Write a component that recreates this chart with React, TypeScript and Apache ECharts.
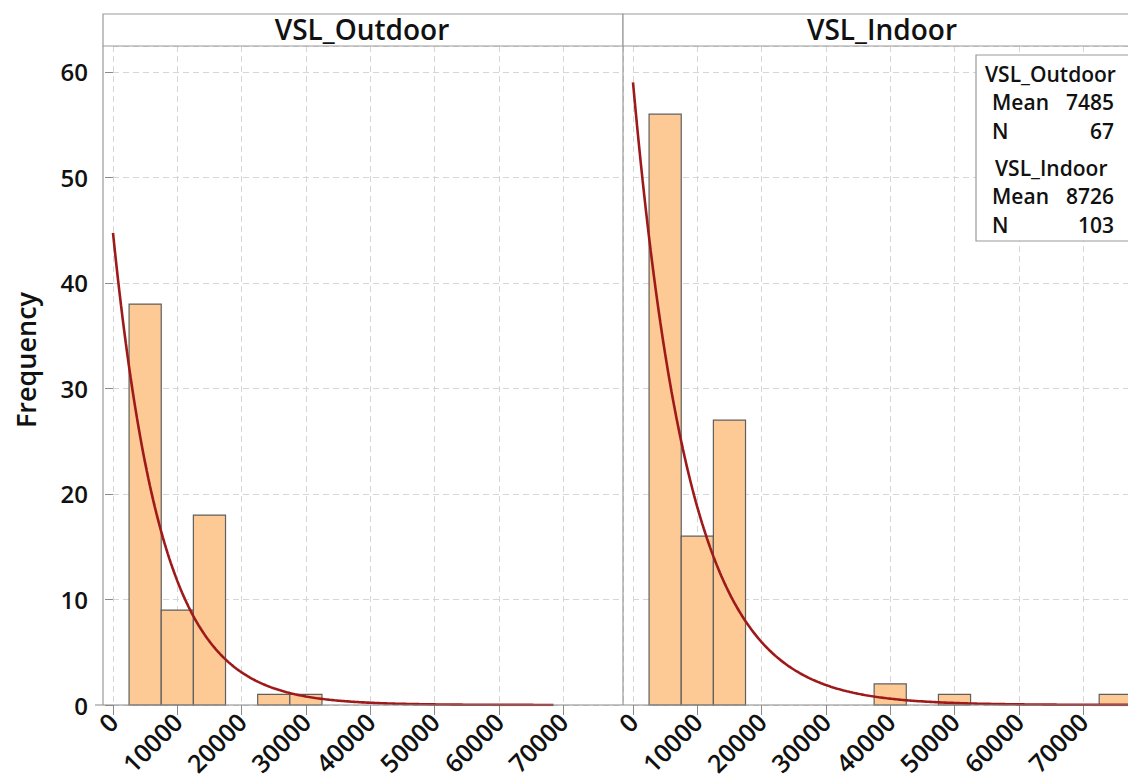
import React, { useEffect, useRef } from "react";
import * as echarts from "echarts";

// ---- Data ----
const BIN_WIDTH = 5000;
const binCenters = [5000, 10000, 15000, 20000, 25000, 30000, 35000, 40000, 45000, 50000, 55000, 60000, 65000, 70000, 75000];
const outdoorCounts = [38, 9, 18, 0, 1, 1, 0, 0, 0, 0, 0, 0, 0, 0, 0];
const indoorCounts = [56, 16, 27, 0, 0, 0, 0, 2, 0, 1, 0, 0, 0, 0, 1];
const panelNames = ["VSL_Outdoor", "VSL_Indoor"];
const outdoorMean = 7485;
const outdoorN = 67;
const indoorMean = 8726;
const indoorN = 103;
const xTickValues = [0, 10000, 20000, 30000, 40000, 50000, 60000, 70000];
const yTickValues = [0, 10, 20, 30, 40, 50, 60];
const fitEndOutdoor = 68600;
const fitEndIndoor = 79300;

// Fitted exponential (scaled to histogram counts) from the legend's Mean and N
function fitCurve(mean: number, n: number, xEnd: number): number[][] {
  const pts: number[][] = [];
  for (let x = 0; x <= xEnd; x += 250) {
    pts.push([x, ((n * BIN_WIDTH) / mean) * Math.exp(-x / mean)]);
  }
  return pts;
}

const FONT = "'Open Sans', 'Noto Sans', sans-serif";
const W = 600;
const X_MAX = 79316;
const Y_MAX = 62.46;

export default function App() {
  const ref = useRef<HTMLDivElement>(null);
  useEffect(() => {
    if (!ref.current) return;
    const chart = echarts.init(ref.current, undefined, { renderer: "svg" });

    const histItem = (params: any, api: any) => {
      const c = api.value(0);
      const n = api.value(1);
      if (!n) return null;
      const p0 = api.coord([c - BIN_WIDTH / 2, n]);
      const p1 = api.coord([c + BIN_WIDTH / 2, 0]);
      return {
        type: "rect",
        shape: { x: p0[0], y: p0[1], width: p1[0] - p0[0], height: p1[1] - p0[1] },
        style: { fill: "#fdca96", stroke: "#5f5f5f", lineWidth: 1.2 },
      };
    };

    const xAxisBase = (gridIndex: number) => ({
      gridIndex,
      type: "value",
      min: 0,
      max: X_MAX,
      interval: 10000,
      axisLine: { show: false },
      axisTick: { show: true, length: 10, lineStyle: { color: "#8a8a8a", width: 1 } },
      axisLabel: {
        rotate: 45,
        fontSize: 25,
        fontWeight: W,
        color: "#111",
        fontFamily: FONT,
        margin: 12,
        showMaxLabel: false,
        formatter: (v: number) => (xTickValues.includes(v) ? String(v) : ""),
      },
      splitLine: { show: true, lineStyle: { color: "#d6d6d6", type: [6, 4], width: 1 } },
    });

    const yAxisBase = (gridIndex: number, labels: boolean) => ({
      gridIndex,
      type: "value",
      min: 0,
      max: Y_MAX,
      interval: 10,
      offset: labels ? 10 : 0,
      axisLine: { show: false },
      axisTick: { show: labels, length: 8, lineStyle: { color: "#8a8a8a" } },
      axisLabel: {
        show: labels,
        fontSize: 24,
        fontWeight: W,
        color: "#111",
        fontFamily: FONT,
        margin: 15,
        showMaxLabel: false,
        formatter: (v: number) => (yTickValues.includes(v) ? String(v) : ""),
      },
      splitLine: { show: true, lineStyle: { color: "#d6d6d6", type: [6, 4], width: 1 } },
    });

    const legendLines = [
      { text: panelNames[0], x: 985, y: 74, align: "left" },
      { text: "Mean", x: 992, y: 102, align: "left" },
      { text: String(outdoorMean), x: 1114, y: 102, align: "right" },
      { text: "N", x: 992, y: 131, align: "left" },
      { text: String(outdoorN), x: 1114, y: 131, align: "right" },
      { text: panelNames[1], x: 995, y: 168, align: "left" },
      { text: "Mean", x: 992, y: 196, align: "left" },
      { text: String(indoorMean), x: 1114, y: 196, align: "right" },
      { text: "N", x: 992, y: 225, align: "left" },
      { text: String(indoorN), x: 1114, y: 225, align: "right" },
    ];

    const option: any = {
      animation: false,
      backgroundColor: "#ffffff",
      grid: [
        { left: 113, top: 46, width: 510, height: 659 },
        { left: 633, top: 46, width: 510, height: 659 },
      ],
      xAxis: [xAxisBase(0), xAxisBase(1)],
      yAxis: [yAxisBase(0, true), yAxisBase(1, false)],
      series: [
        {
          type: "custom",
          xAxisIndex: 0,
          yAxisIndex: 0,
          renderItem: histItem,
          data: binCenters.map((c, i) => [c, outdoorCounts[i]]),
          z: 3,
        },
        {
          type: "custom",
          xAxisIndex: 1,
          yAxisIndex: 1,
          renderItem: histItem,
          data: binCenters.map((c, i) => [c, indoorCounts[i]]),
          z: 3,
        },
        {
          type: "line",
          xAxisIndex: 0,
          yAxisIndex: 0,
          showSymbol: false,
          data: fitCurve(outdoorMean, outdoorN, fitEndOutdoor),
          lineStyle: { color: "#9e1a1a", width: 2.6 },
          z: 4,
        },
        {
          type: "line",
          xAxisIndex: 1,
          yAxisIndex: 1,
          showSymbol: false,
          data: fitCurve(indoorMean, indoorN, fitEndIndoor),
          lineStyle: { color: "#9e1a1a", width: 2.6 },
          z: 4,
        },
      ],
      graphic: [
        // panel frames
        { type: "line", z: 50, shape: { x1: 103, y1: 46, x2: 103, y2: 705 }, style: { stroke: "#9a9a9a", lineWidth: 1.2 } },
        { type: "line", z: 50, shape: { x1: 623, y1: 46, x2: 623, y2: 705 }, style: { stroke: "#9a9a9a", lineWidth: 1.2 } },
        { type: "line", z: 50, shape: { x1: 95, y1: 705, x2: 1160, y2: 705 }, style: { stroke: "#8a8a8a", lineWidth: 1.2 } },
        // headers
        { type: "rect", z: 50, shape: { x: 103, y: 14, width: 520, height: 32 }, style: { fill: "#fff", stroke: "#9a9a9a", lineWidth: 1.2 } },
        { type: "rect", z: 50, shape: { x: 623, y: 14, width: 520, height: 32 }, style: { fill: "#fff", stroke: "#9a9a9a", lineWidth: 1.2 } },
        {
          type: "text", z: 51, x: 362, y: 29,
          style: { text: panelNames[0], fontSize: 28, fontWeight: W, fontFamily: FONT, fill: "#111", align: "center", verticalAlign: "middle" },
        },
        {
          type: "text", z: 51, x: 882, y: 29,
          style: { text: panelNames[1], fontSize: 28, fontWeight: W, fontFamily: FONT, fill: "#111", align: "center", verticalAlign: "middle" },
        },
        // y axis title
        {
          type: "text", z: 51, x: 25, y: 360, rotation: Math.PI / 2,
          style: { text: "Frequency", fontSize: 27, fontWeight: W, fontFamily: FONT, fill: "#111", align: "center", verticalAlign: "middle" },
        },
        // legend box
        { type: "rect", z: 60, shape: { x: 976, y: 55, width: 170, height: 186 }, style: { fill: "#fff", stroke: "#9a9a9a", lineWidth: 1.2 } },
        ...legendLines.map((l) => ({
          type: "text",
          z: 61,
          x: l.x,
          y: l.y,
          style: { text: l.text, fontSize: 21, fontWeight: W, fontFamily: FONT, fill: "#111", align: l.align, verticalAlign: "middle" },
        })),
      ],
    };

    chart.setOption(option);
    return () => chart.dispose();
  }, []);

  return (
    <div
      style={{ position: "fixed", left: 0, top: 0, width: 1128, height: 780, overflow: "hidden", background: "#fff" }}
    >
      <div ref={ref} style={{ position: "absolute", left: 0, top: 0, width: 1160, height: 780 }} />
    </div>
  );
}
